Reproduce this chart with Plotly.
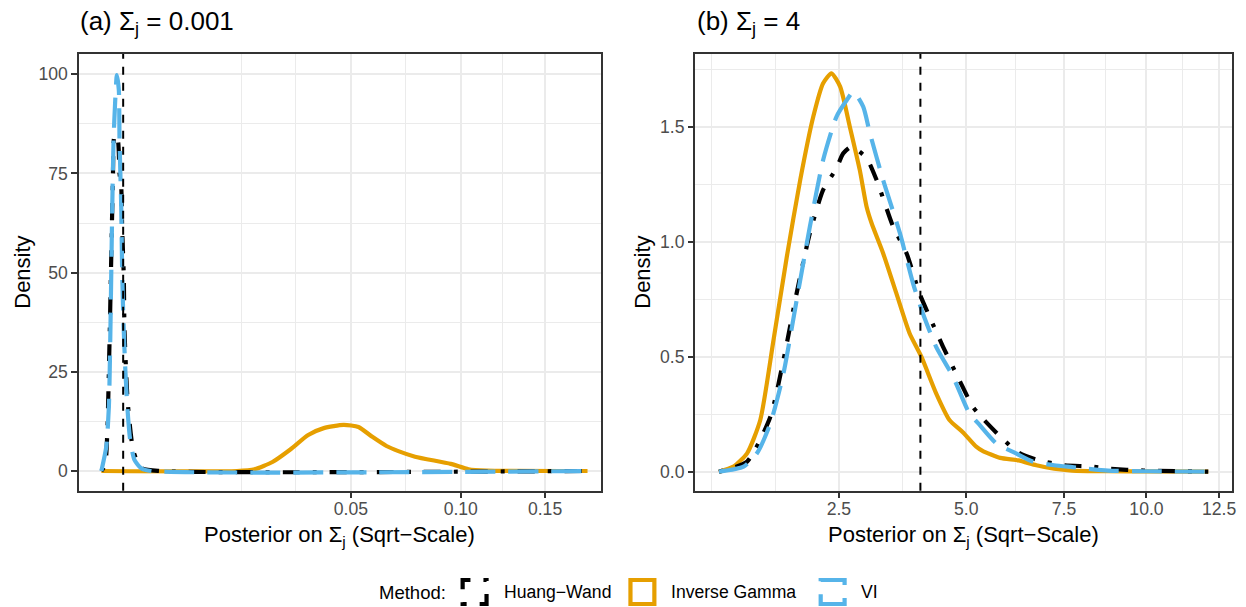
import numpy as np
import plotly.graph_objects as go

# ---------------- data (x in original units, y = density) ----------------
# Panel (a): true Sigma_j = 0.001
a_hw_x = [0.000176, 0.000270, 0.000332, 0.000406, 0.000466, 0.000525, 0.000593, 0.000736,
          0.000815, 0.000899, 0.000949, 0.001034, 0.001072, 0.001262, 0.001624, 0.002187,
          0.00386, 0.179]
a_hw_y = [0, 1.5, 9.5, 33.0, 54.0, 72.5, 84.7, 83.4, 75.0, 71.7, 60.8, 49.0, 35.5, 17.1,
          4.9, 0.8, 0, 0]
a_ig_x = [0.000176, 0.01625, 0.0203, 0.0248, 0.02977, 0.0352, 0.0403, 0.0473, 0.0529,
          0.0584, 0.0643, 0.0695, 0.0771, 0.0947, 0.1042, 0.1141, 0.179]
a_ig_y = [0, 0, 0.45, 2.27, 5.42, 9.07, 10.8, 11.6, 11.1, 8.6, 6.3, 5.0, 3.6, 1.8, 0.45,
          0.1, 0]
a_vi_x = [0.000176, 0.000302, 0.000383, 0.000430, 0.000466, 0.000503, 0.000553, 0.000622,
          0.000691, 0.000782, 0.000815, 0.000899, 0.000949, 0.001018, 0.001128, 0.001262,
          0.001409, 0.001693, 0.002187, 0.003043, 0.179]
a_vi_y = [0, 6.1, 16.2, 33.0, 49.8, 66.6, 83.4, 93.5, 99.8, 96.0, 83.4, 66.6, 49.8, 37.2,
          24.6, 14.5, 7.8, 2.8, 0.7, 0, 0]

# Panel (b): true Sigma_j = 4
b_hw_x = [0.93, 1.23, 1.51, 1.68, 1.86, 2.05, 2.25, 2.46, 2.57, 2.71, 2.97, 3.15, 3.46,
          3.72, 3.98, 4.19, 4.48, 4.84, 5.15, 5.38, 5.81, 6.27, 6.74, 7.52, 8.25, 8.79,
          9.91, 12.11]
b_hw_y = [0.0, 0.044, 0.239, 0.486, 0.776, 1.037, 1.225, 1.319, 1.384, 1.413, 1.363,
          1.268, 1.065, 0.95, 0.776, 0.674, 0.543, 0.399, 0.283, 0.232, 0.153, 0.083,
          0.052, 0.028, 0.023, 0.013, 0.005, 0.0]
b_ig_x = [0.93, 1.08, 1.23, 1.385, 1.55, 1.725, 1.91, 2.10, 2.25, 2.38, 2.52, 2.68, 2.85,
          2.97, 3.06, 3.27, 3.52, 3.78, 4.02, 4.33, 4.62, 4.92, 5.23, 5.38, 5.81, 6.27,
          6.74, 7.22, 7.73, 8.79, 10.0, 12.11]
b_ig_y = [0.0, 0.022, 0.08, 0.225, 0.573, 0.935, 1.268, 1.543, 1.689, 1.732, 1.674, 1.50,
          1.312, 1.152, 1.08, 0.95, 0.776, 0.602, 0.50, 0.341, 0.225, 0.172, 0.109, 0.091,
          0.060, 0.049, 0.028, 0.013, 0.005, 0.002, 0.001, 0.0]
b_vi_x = [0.93, 1.19, 1.345, 1.51, 1.68, 1.86, 2.05, 2.25, 2.46, 2.63, 2.74, 2.91, 3.03,
          3.27, 3.59, 3.85, 4.05, 4.33, 4.70, 5.07, 5.29, 5.72, 6.17, 6.64, 7.22, 7.73,
          8.79, 10.0, 12.11]
b_vi_y = [0.0, 0.022, 0.080, 0.21, 0.428, 0.746, 1.065, 1.355, 1.543, 1.616, 1.652, 1.587,
          1.471, 1.268, 1.037, 0.819, 0.689, 0.543, 0.413, 0.254, 0.208, 0.122, 0.083,
          0.044, 0.028, 0.020, 0.005, 0.002, 0.0]

true_sigma = [0.001, 4.0]
panel_titles = ["(a) Σ<sub>j</sub> = 0.001", "(b) Σ<sub>j</sub> = 4"]
a_xticks = [0.05, 0.10, 0.15]
a_xticklabels = ["0.05", "0.10", "0.15"]
b_xticks = [2.5, 5.0, 7.5, 10.0, 12.5]
b_xticklabels = ["2.5", "5.0", "7.5", "10.0", "12.5"]
a_yticks = [0, 25, 50, 75, 100]
a_yticklabels = ["0", "25", "50", "75", "100"]
b_yticks = [0.0, 0.5, 1.0, 1.5]
b_yticklabels = ["0.0", "0.5", "1.0", "1.5"]
methods = ["Huang−Wand", "Inverse Gamma", "VI"]

# ---------------- styles ----------------
W, H = 1246, 607
FONT = "Liberation Sans, Arial, sans-serif"
col = {"Huang−Wand": "#000000", "Inverse Gamma": "#E69F00", "VI": "#56B4E9"}
dash = {"Huang−Wand": "4px,13px,17px,13px", "Inverse Gamma": "solid", "VI": "30px,13px"}
LW = 4.2
GRID = "#EBEBEB"
DARK = "#333333"

def px2x(px):
    return px / W

def px2y(py):
    return 1 - py / H

def minor_breaks(b, lo, hi):
    b = list(b)
    bd = b[1] - b[0]
    if lo < b[0]:
        b = [b[0] - bd] + b
    if hi > b[-1]:
        b = b + [b[-1] + bd]
    out = []
    for p, q in zip(b[:-1], b[1:]):
        out.append((p + q) / 2)
    out += b
    return sorted(v for v in out if lo < v < hi)

fig = go.Figure()

panels = [
    dict(xa="x", ya="y",
         data={"Huang−Wand": (a_hw_x, a_hw_y), "Inverse Gamma": (a_ig_x, a_ig_y), "VI": (a_vi_x, a_vi_y)}),
    dict(xa="x2", ya="y2",
         data={"Huang−Wand": (b_hw_x, b_hw_y), "Inverse Gamma": (b_ig_x, b_ig_y), "VI": (b_vi_x, b_vi_y)}),
]
draw_order = ["Inverse Gamma", "Huang−Wand", "VI"]
for p in panels:
    for m in draw_order:
        xs, ys = p["data"][m]
        fig.add_trace(go.Scatter(
            x=np.sqrt(np.array(xs)), y=ys, xaxis=p["xa"], yaxis=p["ya"], mode="lines",
            line=dict(color=col[m], width=LW, dash=dash[m], shape="spline", smoothing=0.6),
            showlegend=False, hoverinfo="skip"))

# panel geometry (pixels)
pan = [dict(x0=79.3, x1=603.0, xr=[-0.005626, 0.43409], yr=[-4.97, 105.1],
            xt=a_xticks, xtl=a_xticklabels, yt=a_yticks, ytl=a_yticklabels, ytitle_x=22.5),
       dict(x0=698.3, x1=1236.7, xr=[0.8438, 3.6006], yr=[-0.0826, 1.816],
            xt=b_xticks, xtl=b_xticklabels, yt=b_yticks, ytl=b_yticklabels, ytitle_x=645)]
PT, PB = 54.0, 490.7

layout = dict(width=W, height=H, margin=dict(l=0, r=0, t=0, b=0),
              paper_bgcolor="white", plot_bgcolor="white",
              font=dict(family=FONT, color="#000000"), showlegend=False)
annotations = []
shapes = []
for i, p in enumerate(pan):
    sx = "" if i == 0 else "2"
    xmaj = list(np.sqrt(p["xt"]))
    ymaj = list(p["yt"])
    xmin = minor_breaks(xmaj, p["xr"][0], p["xr"][1])
    xmin = [v for v in xmin if min(abs(v - m) for m in xmaj) > 1e-6]
    ymin = minor_breaks(ymaj, p["yr"][0], p["yr"][1])
    ymin = [v for v in ymin if min(abs(v - m) for m in ymaj) > 1e-6]
    common = dict(showline=True, mirror=True, linecolor=DARK, linewidth=2.1,
                  ticks="outside", ticklen=5.5, tickwidth=2.1, tickcolor=DARK,
                  tickfont=dict(size=17.6, color="#4D4D4D", family=FONT),
                  showgrid=True, gridcolor=GRID, gridwidth=2.1, zeroline=False)
    layout["xaxis" + sx] = dict(common, domain=[px2x(p["x0"]), px2x(p["x1"])], range=p["xr"],
                                anchor="y" + sx, tickmode="array", tickvals=xmaj, ticktext=p["xtl"],
                                ticklabelstandoff=-4,
                                minor=dict(tickmode="array", tickvals=xmin, showgrid=True,
                                           gridcolor=GRID, gridwidth=1.07, ticks=""))
    layout["yaxis" + sx] = dict(common, domain=[px2y(PB), px2y(PT)], range=p["yr"],
                                anchor="x" + sx, tickmode="array", tickvals=ymaj, ticktext=p["ytl"],
                                minor=dict(tickmode="array", tickvals=ymin, showgrid=True,
                                           gridcolor=GRID, gridwidth=1.07, ticks=""))
    # true value reference line
    shapes.append(dict(type="line", xref="x" + sx, yref="y" + sx + " domain",
                       x0=float(np.sqrt(true_sigma[i])), x1=float(np.sqrt(true_sigma[i])),
                       y0=0, y1=1, line=dict(color="#000000", width=2, dash="8px,8px"),
                       layer="above"))
    # panel title
    annotations.append(dict(text=panel_titles[i], x=px2x(p["x0"] - 1), y=px2y(4), xref="paper",
                            yref="paper", xanchor="left", yanchor="top", showarrow=False,
                            font=dict(size=26, family=FONT, color="#000000")))
    # axis titles
    annotations.append(dict(text="Posterior on Σ<sub>j</sub> (Sqrt−Scale)",
                            x=px2x((p["x0"] + p["x1"]) / 2), y=px2y(535.5), xref="paper",
                            yref="paper", xanchor="center", yanchor="middle", showarrow=False,
                            font=dict(size=22, family=FONT, color="#000000")))
    annotations.append(dict(text="Density", x=px2x(p["ytitle_x"]), y=px2y((PT + PB) / 2),
                            xref="paper", yref="paper", xanchor="center", yanchor="middle",
                            textangle=-90, showarrow=False,
                            font=dict(size=22, family=FONT, color="#000000")))

# ---------------- manual legend ----------------
LY = 592
annotations.append(dict(text="Method:", x=px2x(450), y=px2y(LY), xref="paper", yref="paper",
                        xanchor="right", yanchor="middle", showarrow=False,
                        font=dict(size=18.5, family=FONT, color="#000000")))
key_cx = [476.5, 645.0, 836.0]
text_x = [504.0, 672.0, 862.0]
HK = 12
for m, cx, tx in zip(methods, key_cx, text_x):
    shapes.append(dict(type="rect", xref="paper", yref="paper",
                       x0=px2x(cx - HK), x1=px2x(cx + HK), y0=px2y(LY + HK), y1=px2y(LY - HK),
                       line=dict(color=col[m], width=LW, dash=dash[m]), fillcolor="rgba(0,0,0,0)"))
    annotations.append(dict(text=m, x=px2x(tx), y=px2y(LY), xref="paper", yref="paper",
                            xanchor="left", yanchor="middle", showarrow=False,
                            font=dict(size=17.6, family=FONT, color="#000000")))

layout["annotations"] = annotations
layout["shapes"] = shapes
fig.update_layout(**layout)
fig.write_html("out.html")
